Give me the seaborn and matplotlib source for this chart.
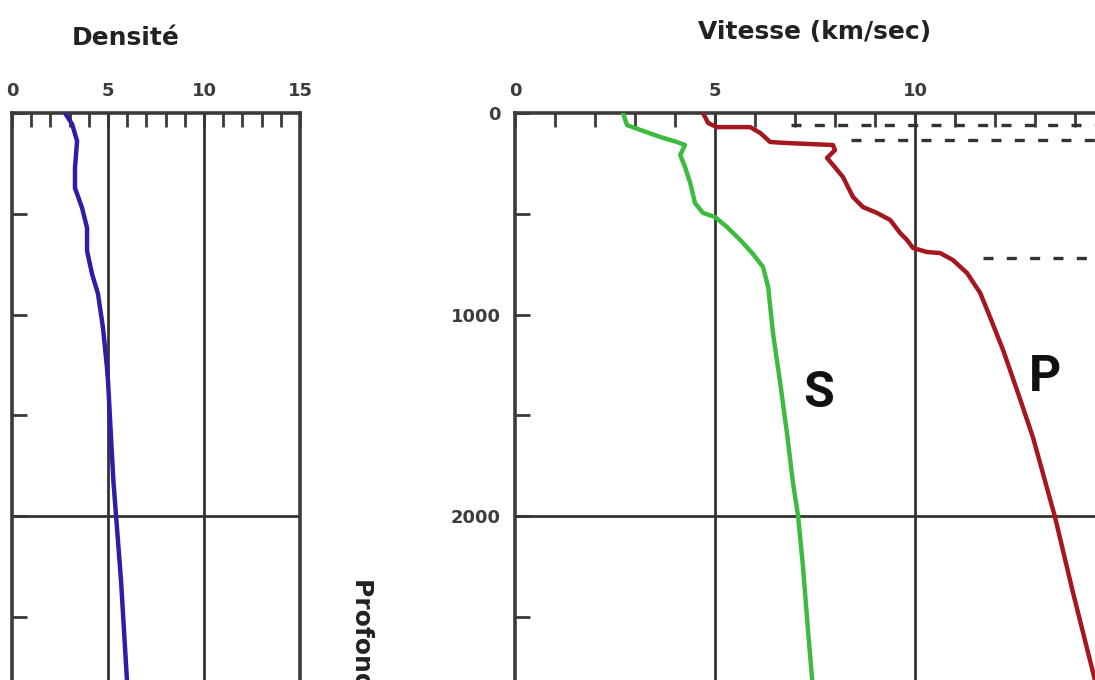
import numpy as np
import pandas as pd
import matplotlib
matplotlib.use("Agg")
import matplotlib.pyplot as plt
import matplotlib.transforms as mtrans
import seaborn as sns

# ---------------- data ----------------
density_depth = [0, 55, 139, 273, 372, 471, 571, 685, 799, 898, 1067, 1266, 1330, 1826, 2000,
                 2323, 2819]
density_value = [2.76, 3.13, 3.39, 3.28, 3.28, 3.65, 3.91, 3.91, 4.17, 4.48, 4.74, 4.95, 5.0,
                 5.28, 5.42, 5.68, 5.99]

p_depth = [0, 50, 70, 70, 99, 144, 149, 159, 184, 223, 258, 318, 417, 467, 496, 531, 596, 630,
           670, 690, 695, 730, 794, 893, 1000, 1175, 1375, 1610, 2005, 2380, 2815]
p_velocity = [4.7, 4.83, 5.05, 5.88, 6.13, 6.38, 6.8, 7.95, 8.0, 7.8, 7.95, 8.2, 8.45, 8.7,
              9.05, 9.38, 9.63, 9.8, 9.95, 10.3, 10.63, 10.95, 11.3, 11.63, 11.85, 12.2, 12.55,
              12.95, 13.5, 13.95, 14.5]

s_depth = [0, 60, 84, 119, 144, 159, 208, 268, 347, 447, 496, 516, 566, 630, 695, 764, 864,
           1092, 1340, 1590, 1836, 2005, 2253, 2580, 2815]
s_velocity = [2.7, 2.8, 3.13, 3.63, 4.05, 4.25, 4.13, 4.25, 4.38, 4.5, 4.7, 5.0, 5.3, 5.63,
              5.93, 6.2, 6.33, 6.45, 6.63, 6.8, 6.95, 7.08, 7.2, 7.33, 7.43]

discontinuity_depth = [60, 134, 720]
discontinuity_start = [6.9, 8.4, 11.7]

x_major_ticks = [0, 5, 10, 15]
x_tick_labels = ["0", "5", "10", "15"]
depth_ticks = [0, 500, 1000, 1500, 2000, 2500]
depth_tick_labels = ["0", "", "1000", "", "2000", ""]

# ---------------- style ----------------
sns.set_style("white")
plt.rcParams["font.family"] = ["DejaVu Sans"]

W, H = 1095, 680
fig = plt.figure(figsize=(W / 100, H / 100), dpi=100)

y_top_px = 113
px_per_km = 0.2015
depth_max = 3000
ax_h_px = depth_max * px_per_km
bottom = (H - y_top_px - ax_h_px) / H

ax1 = fig.add_axes([12 / W, bottom, 288 / W, ax_h_px / H])
ax2 = fig.add_axes([515 / W, bottom, 600 / W, ax_h_px / H])

GRID = "#333333"
SPINE = "#3a3a3a"
TXT = "#3c3c3c"

dens_df = pd.DataFrame({"depth": density_depth, "value": density_value})
p_df = pd.DataFrame({"depth": p_depth, "value": p_velocity})
s_df = pd.DataFrame({"depth": s_depth, "value": s_velocity})


def style_axes(ax, show_ylabels):
    ax.set_xlim(0, 15)
    ax.set_ylim(depth_max, 0)
    ax.xaxis.tick_top()
    ax.set_xticks(x_major_ticks)
    ax.set_xticklabels(x_tick_labels, fontsize=13, fontweight="bold", color=TXT)
    ax.set_xticks(range(16), minor=True)
    ax.tick_params(axis="x", which="both", direction="in", top=True, bottom=False,
                   length=10, width=2, color=SPINE, pad=9)
    ax.set_yticks(depth_ticks)
    if show_ylabels:
        ax.set_yticklabels(depth_tick_labels, fontsize=13, fontweight="bold", color=TXT)
    else:
        ax.set_yticklabels([""] * len(depth_ticks))
    ax.tick_params(axis="y", which="both", direction="in", left=True, right=False,
                   length=11, width=2, color=SPINE, pad=10)
    for side in ["top", "left", "right"]:
        ax.spines[side].set_linewidth(2.6)
        ax.spines[side].set_color(SPINE)
    ax.spines["bottom"].set_visible(False)
    for xv in [5, 10]:
        ax.axvline(xv, color=GRID, lw=2, zorder=1)
    ax.axhline(2000, color=GRID, lw=2, zorder=1)
    ax.set_xlabel("")
    ax.set_ylabel("")
    ax.grid(False)


line_kw = dict(sort=False, estimator=None, lw=3.2, zorder=3,
               solid_joinstyle="round", solid_capstyle="round")
sns.lineplot(data=dens_df, x="value", y="depth", color="#2a1fa6", ax=ax1, **line_kw)
sns.lineplot(data=s_df, x="value", y="depth", color="#3dbb3f", ax=ax2, **line_kw)
sns.lineplot(data=p_df, x="value", y="depth", color="#a5171f", ax=ax2, **line_kw)

style_axes(ax1, False)
style_axes(ax2, True)

for d, xs in zip(discontinuity_depth, discontinuity_start):
    ax2.hlines(d, xs, 15, colors=GRID, linestyles=(0, (3, 4)), lw=2.4, zorder=2)

# titles
blend1 = mtrans.blended_transform_factory(ax1.transData, fig.transFigure)
ax1.text(5.9, 1 - 38 / H, "Densité", transform=blend1, ha="center", va="center",
         fontsize=18, fontweight="bold", color="#222222")
fig.text((515 + 300) / W, 1 - 32 / H, "Vitesse (km/sec)", ha="center", va="center",
         fontsize=18, fontweight="bold", color="#222222")

# curve labels
ax2.text(7.6, 1390, "S", ha="center", va="center", fontsize=36,
         fontweight="bold", color="#111111", family=["Roboto", "DejaVu Sans"])
ax2.text(13.25, 1315, "P", ha="center", va="center", fontsize=36,
         fontweight="bold", color="#111111", family=["Roboto", "DejaVu Sans"])

# depth axis label
fig.text(362 / W, 1 - 578 / H, "Profondeur (km)", rotation=270, ha="center", va="top",
         fontsize=18, fontweight="bold", color="#222222")

fig.savefig("out.png", dpi=100)
